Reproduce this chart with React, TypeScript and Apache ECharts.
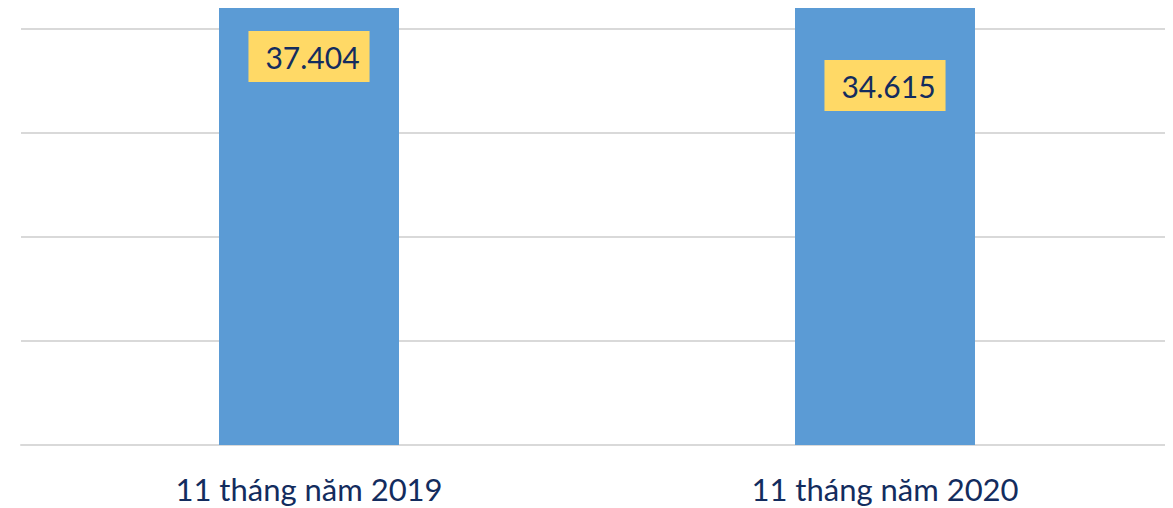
import React, { useEffect, useRef } from "react";
import * as echarts from "echarts";

const categories = ["11 tháng năm 2019", "11 tháng năm 2020"];
const values = [37404, 34615];
const valueLabels = ["37.404", "34.615"];

export default function App() {
  const ref = useRef<HTMLDivElement>(null);
  useEffect(() => {
    if (!ref.current) return;
    const chart = echarts.init(ref.current, undefined, { renderer: "svg" });
    const labelDistances = [23, 52];
    chart.setOption({
      animation: false,
      grid: { left: 13, right: 0, top: 0, bottom: 63, containLabel: false },
      xAxis: {
        type: "category",
        data: categories,
        axisTick: { show: false },
        axisLine: { lineStyle: { color: "#D9D9D9", width: 2 } },
        axisLabel: {
          color: "#132C5E",
          fontFamily: "Lato",
          fontSize: 31,
          margin: 28,
        },
      },
      yAxis: {
        type: "value",
        min: 0,
        max: 33615,
        interval: 8000,
        axisLabel: { show: false },
        axisLine: { show: false },
        axisTick: { show: false },
        splitLine: { showMaxLine: false, lineStyle: { color: "#D9D9D9", width: 2 } },
      },
      series: [
        {
          type: "bar",
          barWidth: 180,
          clip: true,
          itemStyle: { color: "#5B9BD5" },
          data: values.map((v, i) => ({
            value: v,
            label: {
              show: true,
              position: "insideTop",
              distance: labelDistances[i],
              formatter: () => valueLabels[i],
              color: "#132C5E",
              fontFamily: "Lato",
              fontSize: 30,
              backgroundColor: "#FFD966",
              padding: [8, 10, 8, 17],
              lineHeight: 35,
            },
          })),
        },
      ],
    });
    return () => chart.dispose();
  }, []);
  return <div ref={ref} style={{ width: 1165, height: 500 }} />;
}
